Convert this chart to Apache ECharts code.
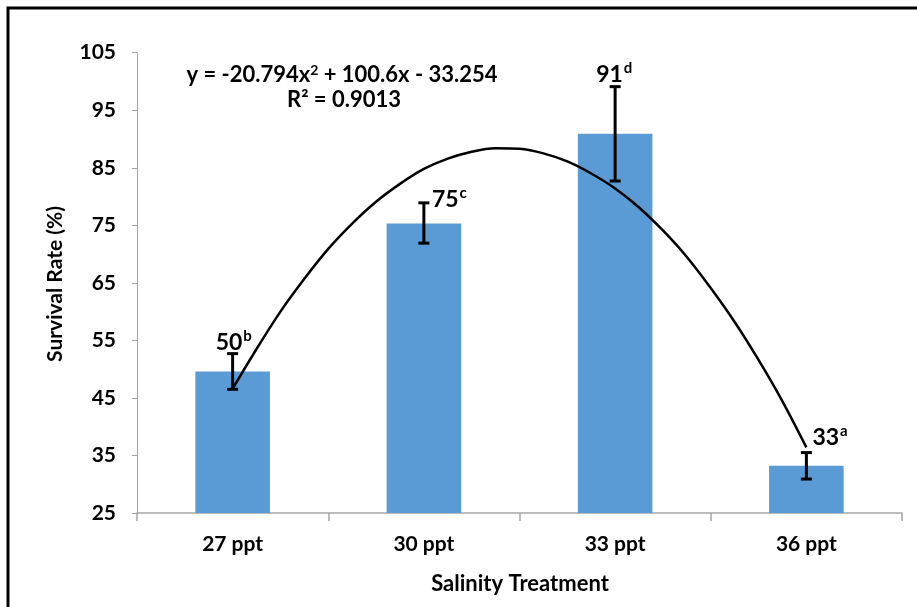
<!DOCTYPE html>
<html>
<head>
<meta charset="utf-8">
<style>
  html, body { margin: 0; padding: 0; background: #fff; }
  #chart { width: 917px; height: 607px; }
</style>
<script src="https://cdn.jsdelivr.net/npm/echarts@6/dist/echarts.min.js"></script>
</head>
<body>
<div id="chart"></div>
<script>
// ---- data ----
const categories = ['27 ppt', '30 ppt', '33 ppt', '36 ppt'];
const survival = [49.6, 75.3, 90.9, 33.2];
const errLow = [46.5, 71.9, 82.7, 30.9];
const errHigh = [52.7, 78.9, 99.1, 35.5];
const labelNumbers = ['50', '75', '91', '33'];
const labelLetters = ['b', 'c', 'd', 'a'];
// polynomial trendline (x = treatment index 1..4)
const trendX = [1, 1.125, 1.25, 1.375, 1.5, 1.625, 1.75, 1.875, 2, 2.125, 2.25, 2.375, 2.5,
                2.625, 2.75, 2.875, 3, 3.125, 3.25, 3.375, 3.5, 3.625, 3.75, 3.875, 4];
const trendY = [46.6, 53.5, 60.0, 65.7, 70.9, 75.3, 79.1, 82.2, 84.8, 86.6, 87.8, 88.4, 88.3,
                87.5, 86.1, 84.0, 81.4, 78.1, 74.1, 69.5, 64.1, 58.2, 51.6, 44.4, 36.4];
const yTicks = { min: 25, max: 105, interval: 10 };
const xTitle = 'Salinity Treatment';
const yTitle = 'Survival Rate (%)';
const equationText = 'y = -20.794x{sup|2} + 100.6x - 33.254';
const r2Text = 'R² = 0.9013';

// ---- styling (label placement relative to error-bar top) ----
const labelPlacement = [
  { dx: -17, dy: 2 },
  { dx: 8, dy: 10 },
  { dx: -19, dy: 1 },
  { dx: 6, dy: -2 }
];
const FONT = '"Lato", sans-serif';

const chart = echarts.init(document.getElementById('chart'), null, { renderer: 'canvas' });

const errData = categories.map((c, i) => [i, errLow[i], errHigh[i]]);
const trendData = trendX.map((x, i) => [x, trendY[i]]);

const option = {
  animation: false,
  backgroundColor: '#ffffff',
  grid: { left: 137, right: 15, top: 52.7, bottom: 94, containLabel: false },
  xAxis: [
    {
      type: 'category',
      data: categories,
      boundaryGap: true,
      axisLine: { show: true, lineStyle: { color: '#a6a6a6', width: 1.5 } },
      axisTick: { show: true, length: 8, lineStyle: { color: '#a6a6a6', width: 1.5 } },
      axisLabel: { color: '#000', fontFamily: FONT, fontWeight: 'bold', fontSize: 21, margin: 21 },
      splitLine: { show: false }
    },
    {
      type: 'value',
      min: 0.5,
      max: 4.5,
      show: false,
      splitLine: { show: false }
    }
  ],
  yAxis: {
    type: 'value',
    min: yTicks.min,
    max: yTicks.max,
    interval: yTicks.interval,
    axisLine: { show: true, lineStyle: { color: '#a6a6a6', width: 1 } },
    axisTick: { show: true, length: 5, lineStyle: { color: '#a6a6a6' } },
    splitLine: { show: false },
    axisLabel: { color: '#000', fontFamily: FONT, fontWeight: 'bold', fontSize: 21, margin: 21 }
  },
  series: [
    {
      type: 'bar',
      data: survival,
      barWidth: '39%',
      itemStyle: { color: '#5b9bd5' },
      z: 1
    },
    {
      type: 'custom',
      data: errData,
      z: 5,
      renderItem: function (params, api) {
        const i = api.value(0);
        const lo = api.coord([i, api.value(1)]);
        const hi = api.coord([i, api.value(2)]);
        const x = lo[0];
        const cap = 5.5;
        const ls = { stroke: '#000', lineWidth: 3 };
        const p = labelPlacement[params.dataIndex];
        return {
          type: 'group',
          children: [
            { type: 'line', shape: { x1: x, y1: lo[1], x2: x, y2: hi[1] }, style: ls },
            { type: 'line', shape: { x1: x - cap, y1: lo[1], x2: x + cap, y2: lo[1] }, style: ls },
            { type: 'line', shape: { x1: x - cap, y1: hi[1], x2: x + cap, y2: hi[1] }, style: ls },
            {
              type: 'text',
              x: x + p.dx,
              y: hi[1] + p.dy,
              style: {
                text: '{n|' + labelNumbers[params.dataIndex] + '}{s|' + labelLetters[params.dataIndex] + '}',
                textAlign: 'left',
                textVerticalAlign: 'bottom',
                rich: {
                  n: { fontFamily: FONT, fontWeight: 'bold', fontSize: 23, fill: '#000' },
                  s: { fontFamily: FONT, fontWeight: 'bold', fontSize: 15, fill: '#000', padding: [0, 0, 12, 1] }
                }
              }
            }
          ]
        };
      }
    },
    {
      type: 'line',
      xAxisIndex: 1,
      data: trendData,
      smooth: 0.3,
      showSymbol: false,
      symbol: 'none',
      lineStyle: { color: '#000', width: 2.5 },
      z: 4
    }
  ],
  graphic: [
    {
      type: 'rect',
      shape: { x: 8, y: 8, width: 1000, height: 1000 },
      style: { fill: 'none', stroke: '#000', lineWidth: 3 },
      silent: true
    },
    {
      type: 'text',
      x: 342,
      y: 75,
      style: {
        text: equationText,
        textAlign: 'center',
        textVerticalAlign: 'middle',
        rich: {
          sup: { fontFamily: FONT, fontWeight: 'bold', fontSize: 14, padding: [0, 0, 10, 0], fill: '#000' }
        },
        font: 'bold 22px ' + FONT,
        fill: '#000'
      }
    },
    {
      type: 'text',
      x: 344,
      y: 100,
      style: {
        text: r2Text,
        textAlign: 'center',
        textVerticalAlign: 'middle',
        font: 'bold 22px ' + FONT,
        fill: '#000'
      }
    },
    {
      type: 'text',
      x: 520,
      y: 584,
      style: {
        text: xTitle,
        textAlign: 'center',
        textVerticalAlign: 'middle',
        font: 'bold 22px ' + FONT,
        fill: '#000'
      }
    },
    {
      type: 'text',
      x: 55,
      y: 284,
      rotation: Math.PI / 2,
      style: {
        text: yTitle,
        textAlign: 'center',
        textVerticalAlign: 'middle',
        font: 'bold 21px ' + FONT,
        fill: '#000'
      }
    }
  ]
};

chart.setOption(option);
</script>
</body>
</html>
